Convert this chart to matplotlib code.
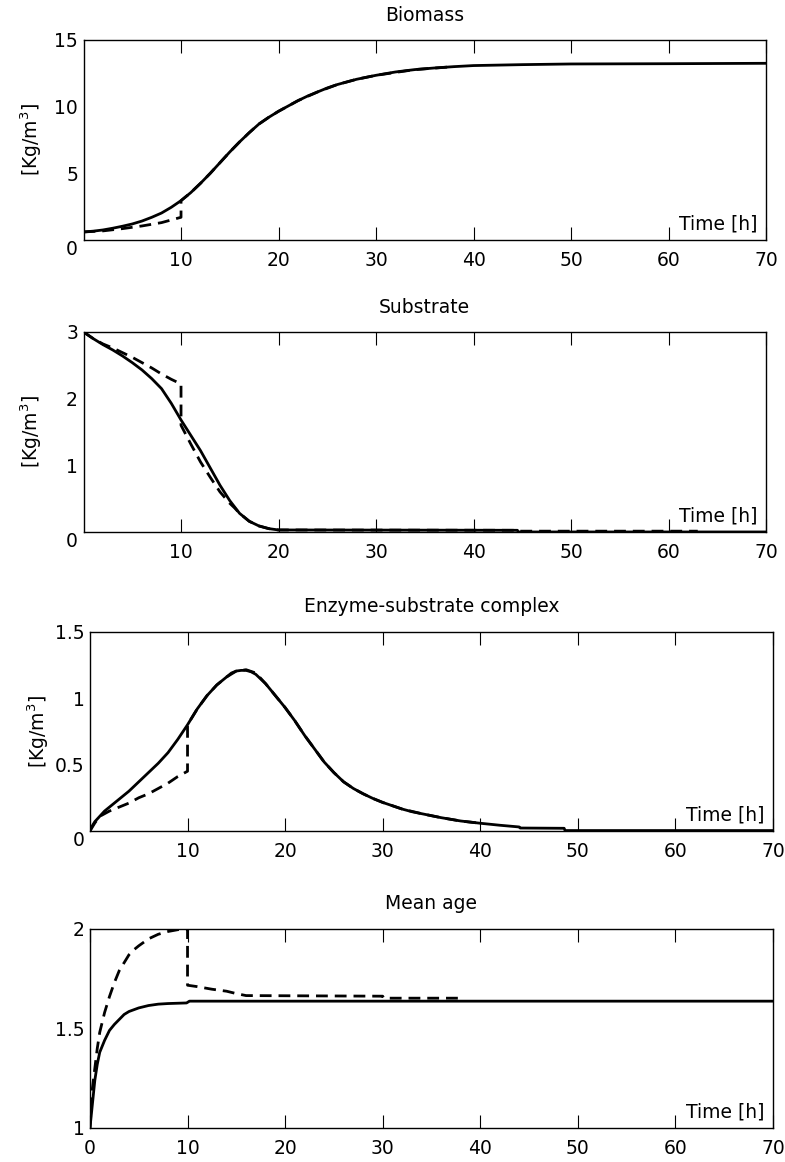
import matplotlib
matplotlib.use("Agg")
import matplotlib.pyplot as plt

plt.rcParams['font.family'] = ['DejaVu Sans']
plt.rcParams['mathtext.default'] = 'regular'
plt.rcParams['lines.scale_dashes'] = False

# Biomass (solid = full model, dashed = second run)
bio_t = [0, 1, 2, 3, 4, 5, 6, 7, 8, 9, 10, 11, 12, 13, 14, 15, 16, 17, 18, 19, 20, 21, 22, 23,
         24, 25, 26, 27, 28, 29, 30, 32, 34, 36, 38, 40, 45, 50, 60, 70]
bio_y = [0.6, 0.66, 0.75, 0.88, 1.03, 1.2, 1.42, 1.7, 2.02, 2.45, 2.95, 3.55, 4.25, 5.0, 5.8,
         6.6, 7.35, 8.05, 8.7, 9.2, 9.65, 10.05, 10.45, 10.8, 11.1, 11.4, 11.65, 11.85, 12.05,
         12.2, 12.35, 12.6, 12.78, 12.9, 13.0, 13.08, 13.15, 13.2, 13.22, 13.25]
bio_dt = [0, 2, 4, 6, 8, 9, 10, 10, 11, 12, 13, 14, 15, 16, 17, 18, 19, 20, 22, 24, 26, 28, 30,
          34, 38]
bio_dy = [0.6, 0.68, 0.85, 1.05, 1.3, 1.5, 1.7, 2.95, 3.55, 4.25, 5.0, 5.8, 6.6, 7.35, 8.05, 8.7,
          9.2, 9.65, 10.45, 11.1, 11.65, 12.05, 12.35, 12.78, 13.0]

# Substrate
sub_t = [0, 1, 2, 3, 4, 5, 6, 7, 8, 9, 10, 11, 12, 13, 14, 15, 16, 17, 18, 19, 20, 44.5, 44.6, 70]
sub_y = [3.0, 2.9, 2.81, 2.73, 2.64, 2.54, 2.43, 2.3, 2.15, 1.93, 1.68, 1.45, 1.22, 0.96, 0.7,
         0.47, 0.28, 0.16, 0.09, 0.05, 0.03, 0.025, 0.0, 0.0]
sub_dt = [0, 1, 2, 3, 4, 5, 6, 7, 8, 9, 10, 10, 11, 12, 13, 14, 15, 15.5, 16, 17, 18, 19, 20,
          44.5, 44.6, 63]
sub_dy = [3.0, 2.9, 2.82, 2.76, 2.69, 2.62, 2.54, 2.46, 2.37, 2.29, 2.22, 1.6, 1.32, 1.05, 0.82,
          0.6, 0.43, 0.36, 0.28, 0.16, 0.09, 0.05, 0.03, 0.025, 0.012, 0.012]

# Enzyme-substrate complex
enz_t = [0, 0.25, 0.5, 1, 1.5, 2, 3, 4, 5, 6, 7, 8, 9, 10, 11, 12, 13, 14, 14.5, 15, 15.5, 16,
         16.5, 17, 18, 19, 20, 21, 22, 23, 24, 25, 26, 27, 28, 29, 30, 31, 32, 33, 34, 35, 36,
         38, 40, 42, 44, 44.1, 48.6, 48.7, 70]
enz_y = [0, 0.04, 0.07, 0.11, 0.15, 0.18, 0.24, 0.3, 0.37, 0.44, 0.51, 0.59, 0.69, 0.8, 0.92,
         1.02, 1.1, 1.16, 1.19, 1.205, 1.21, 1.21, 1.2, 1.18, 1.11, 1.02, 0.93, 0.83, 0.72, 0.62,
         0.52, 0.44, 0.37, 0.32, 0.28, 0.245, 0.215, 0.19, 0.165, 0.145, 0.13, 0.115, 0.1, 0.075,
         0.058, 0.043, 0.03, 0.022, 0.02, 0.003, 0.003]
enz_dt = [0, 0.5, 1, 2, 3, 4, 5, 6, 7, 8, 9, 10, 10, 11, 12, 13, 14, 15, 16, 17, 18, 19, 20, 21,
          22, 23, 24, 25, 26, 27, 28, 29, 30, 32, 34, 36, 38, 40]
enz_dy = [0, 0.06, 0.11, 0.15, 0.18, 0.21, 0.25, 0.28, 0.32, 0.36, 0.41, 0.45, 0.8, 0.92, 1.02,
          1.1, 1.16, 1.205, 1.215, 1.19, 1.11, 1.02, 0.93, 0.83, 0.72, 0.62, 0.52, 0.44, 0.37,
          0.32, 0.28, 0.245, 0.215, 0.165, 0.13, 0.1, 0.075, 0.058]

# Mean age
age_t = [0, 0.25, 0.5, 0.75, 1, 1.5, 2, 2.5, 3, 3.5, 4, 5, 6, 7, 8, 9.9, 10.2, 70]
age_y = [1.0, 1.12, 1.24, 1.32, 1.38, 1.44, 1.49, 1.52, 1.545, 1.57, 1.585, 1.603, 1.615, 1.622,
         1.625, 1.628, 1.637, 1.637]
age_dt = [0, 0.25, 0.5, 0.75, 1, 1.5, 2, 2.5, 3, 3.5, 4, 4.5, 5, 6, 7, 8, 9, 10, 10, 11, 12.5,
          14, 15, 16, 30, 30.1, 38.2]
age_dy = [1.0, 1.2, 1.3, 1.4, 1.48, 1.58, 1.66, 1.73, 1.79, 1.83, 1.87, 1.895, 1.915, 1.95,
          1.973, 1.987, 1.996, 2.0, 1.717, 1.71, 1.697, 1.687, 1.675, 1.665, 1.662, 1.652, 1.652]

xt_a = [10, 20, 30, 40, 50, 60, 70]
xt_b = [0, 10, 20, 30, 40, 50, 60, 70]

panels = [
    ("Biomass", bio_t, bio_y, bio_dt, bio_dy, (0, 15), [0, 5, 10, 15], ["0", "5", "10", "15"], xt_a),
    ("Substrate", sub_t, sub_y, sub_dt, sub_dy, (0, 3), [0, 1, 2, 3], ["0", "1", "2", "3"], xt_a),
    ("Enzyme-substrate complex", enz_t, enz_y, enz_dt, enz_dy, (0, 1.5), [0, 0.5, 1, 1.5],
     ["0", "0.5", "1", "1.5"], xt_a),
    ("Mean age", age_t, age_y, age_dt, age_dy, (1, 2), [1, 1.5, 2], ["1", "1.5", "2"], xt_b),
]

# axes rectangles in figure fractions (figure is 785 x 1162 px)
rects = [
    [0.1064, 0.7935, 0.8694, 0.1721],
    [0.1064, 0.5422, 0.8694, 0.1721],
    [0.1146, 0.2849, 0.8700, 0.1713],
    [0.1146, 0.0293, 0.8700, 0.1713],
]

fig = plt.figure(figsize=(7.85, 11.62), dpi=100)
fs = 13.5

for i, (title, t, y, dt, dy, ylim, yt, ytl, xt) in enumerate(panels):
    ax = fig.add_axes(rects[i])
    ax.plot(t, y, color="black", lw=2.0, solid_joinstyle="round")
    line, = ax.plot(dt, dy, color="black", lw=2.0)
    line.set_dashes((8.5, 5))
    ax.set_xlim(0, 70)
    ax.set_ylim(*ylim)
    ax.set_xticks(xt)
    ax.set_xticklabels([str(v) for v in xt])
    ax.set_yticks(yt)
    ax.set_yticklabels(ytl)
    ax.tick_params(axis="x", direction="in", top=True, bottom=True, length=9.5, width=0.8,
                   labelsize=fs, pad=8)
    ax.tick_params(axis="y", direction="in", length=0, labelsize=fs, pad=4)
    if i < 3:
        ax.get_yticklabels()[0].set_verticalalignment("top")
    for sp in ax.spines.values():
        sp.set_linewidth(1.0)
    ax.set_title(title, fontsize=fs, pad=14)
    ax.text(0.988, 0.03, "Time [h]", transform=ax.transAxes, ha="right", va="bottom",
            fontsize=fs)
    if i < 3:
        ax.set_ylabel("[Kg/m$^3$]", fontsize=fs, va="center")
        ax.yaxis.set_label_coords(-0.076, 0.5)

fig.savefig("out.png", dpi=100)
